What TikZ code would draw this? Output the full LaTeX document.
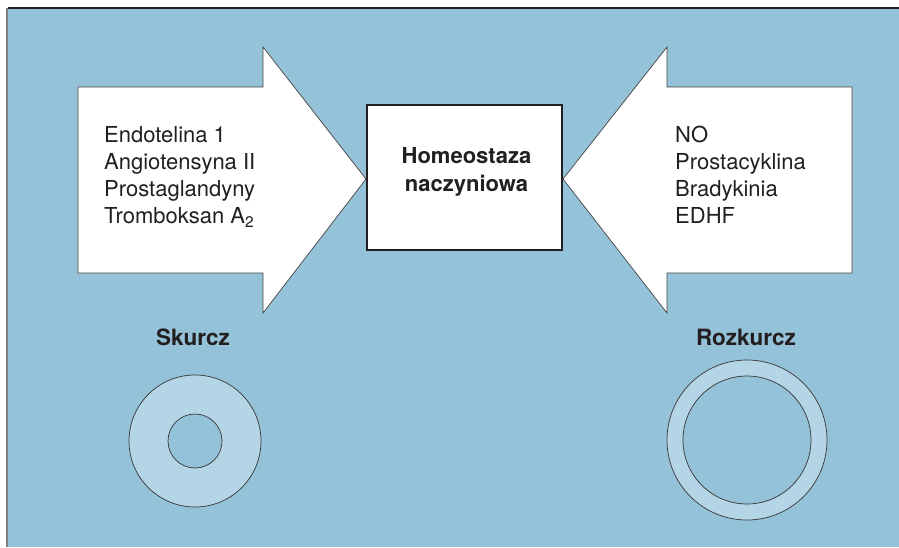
\documentclass[tikz,border=0pt]{standalone}
\usepackage{fontspec}
\setmainfont{TeX Gyre Heros}
\definecolor{tlo}{RGB}{148,194,216}
\definecolor{sciana}{RGB}{180,213,230}
\definecolor{druk}{RGB}{35,31,32}
\tikzset{
  blockarrow/.style={fill=white,draw=druk!85,line width=0.7pt,line join=miter},
  lista/.style={align=left,inner sep=0pt,text=druk,
    font=\fontsize{22}{27}\selectfont},
  napis/.style={inner sep=0pt,text=druk,
    font=\fontsize{22.5}{27}\selectfont\bfseries},
  vessel wall/.style={fill=sciana,draw=druk!90,line width=0.7pt},
  vessel lumen/.style={fill=tlo,draw=druk!90,line width=0.7pt},
}
\newcommand\DrawBlockArrow[3]{% body end, head start, tip
  \draw[blockarrow] (#1,87) -- (#2,87) -- (#2,47) -- (#3,179)
    -- (#2,313) -- (#2,273) -- (#1,273) -- cycle;
}
\newcommand\DrawVessel[4]{% centre x, centre y, outer radius, inner radius
  \filldraw[vessel wall] (#1,#2) circle[radius=#3pt];
  \filldraw[vessel lumen] (#1,#2) circle[radius=#4pt];
}
\begin{document}
\begin{tikzpicture}[x=1pt,y=-1pt] % naczynie: skurcz i rozkurcz
\useasboundingbox (0,0) rectangle (899,547);
\fill[tlo] (8,8) rectangle (899,547);
\draw[druk,line width=1.3pt] (8,8) -- (899,8);
\draw[gray,line width=2pt] (7,8) -- (7,547);
% strzalki
\DrawBlockArrow{78}{263}{366}
\DrawBlockArrow{852}{667}{563}
% homeostaza
\node[draw=druk,line width=1.2pt,fill=white,minimum width=195pt,
  minimum height=145pt,inner sep=0pt] (homeo) at (464.5,177.5) {};
\node[napis,font=\fontsize{22}{28}\selectfont\bfseries,align=center,
  anchor=north] (homeotxt) at (466.5,147.2) {Homeostaza\\naczyniowa};
% czynniki
\node[lista,anchor=north west] (zwezajace) at (104,126)
  {Endotelina 1\\Angiotensyna II\\Prostaglandyny\\Tromboksan A\textsubscript{2}};
\node[lista,anchor=north west] (rozszerzajace) at (675,126.2)
  {NO\\Prostacyklina\\Bradykinia\\EDHF};
% przekroje naczyn
\node[napis,anchor=base] (skurcz) at (193,345.7) {Skurcz};
\node[napis,anchor=base] (rozkurcz) at (746,345.7) {Rozkurcz};
\DrawVessel{195}{441}{66}{27}
\DrawVessel{747}{440}{80}{64}
\end{tikzpicture}
\end{document}
